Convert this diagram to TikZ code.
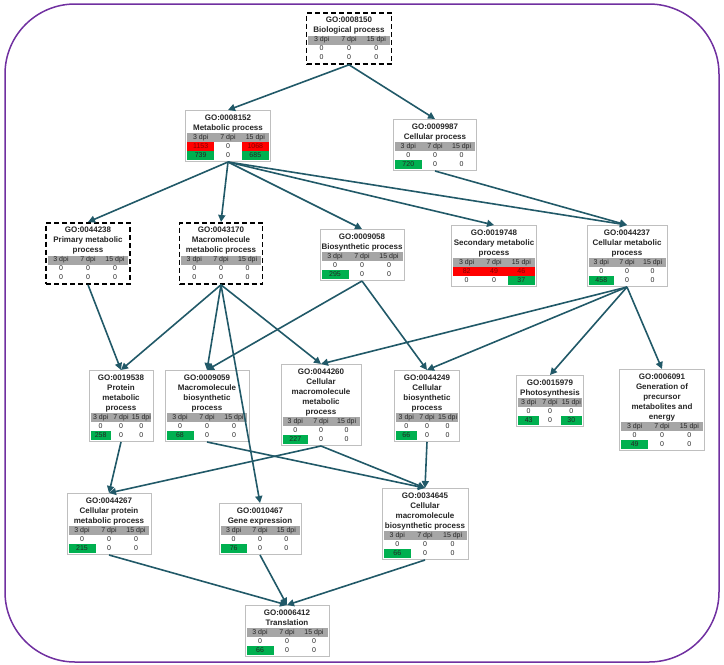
\documentclass[tikz,border=0pt]{standalone}
\usepackage{fontspec}
\setmainfont{Liberation Sans}
\usepackage{array,colortbl}
\definecolor{frameViolet}{HTML}{7030A0}
\definecolor{edgeTeal}{HTML}{215968}
\definecolor{boxGray}{HTML}{BFBFBF}
\definecolor{dpiGray}{HTML}{A6A6A6}
\definecolor{upRed}{HTML}{FF0000}
\definecolor{downGreen}{HTML}{00B050}
\usetikzlibrary{arrows.meta}

\newcolumntype{Y}[1]{>{\centering\arraybackslash}p{#1}}
\newcommand{\up}[1]{\cellcolor{upRed}\textcolor{upRed!50!black}{#1}}
\newcommand{\dn}[1]{\cellcolor{downGreen}#1}
% #1 inner width (pt), #2 GO id, #3 term name, #4 and #5 value rows
\newcommand{\goterm}[5]{%
  \fontsize{7}{9}\selectfont\setlength{\tabcolsep}{0pt}%
  \begin{tabular}{@{}Y{\dimexpr#1pt/3\relax}Y{\dimexpr#1pt/3\relax}Y{\dimexpr#1pt/3\relax}@{}}
  \multicolumn{3}{@{}c@{}}{\parbox[b]{#1pt}{\centering\fontsize{8}{10}\selectfont\bfseries\rule{0pt}{8.5pt}#2\\#3}}\\
  \rowcolor{dpiGray}3 dpi & 7 dpi & 15 dpi\\
  #4\\
  #5
  \end{tabular}}

\begin{document}
\begin{tikzpicture}[
    x=1pt, y=-1pt,
    term/.style={rectangle, draw=boxGray, line width=0.8pt, fill=white, inner sep=1.5pt, anchor=north, text=black!85},
    keyterm/.style={term, draw=black, line width=1.6pt, dash pattern=on 5pt off 3pt},
    edge/.style={-{Triangle[length=7pt,width=7pt]}, line width=1.6pt, edgeTeal},
    frame/.style={draw=frameViolet, line width=1.5pt, rounded corners=70pt}
]
\useasboundingbox (0,0) rectangle (724,665);
\draw[frame] (5,4) rectangle (719,662);

% Level 1 and 2
\node[keyterm] (bp) at (349,12) {\goterm{82}{GO:0008150}{Biological process}{0 & 0 & 0}{0 & 0 & 0}};
\node[term] (mp) at (228,110) {\goterm{82}{GO:0008152}{Metabolic process}{\up{1153} & 0 & \up{1068}}{\dn{739} & 0 & \dn{685}}};
\node[term] (cp) at (435,119) {\goterm{80}{GO:0009987}{Cellular process}{0 & 0 & 0}{\dn{720} & 0 & 0}};

% Level 3
\node[keyterm] (pmp) at (88,222) {\goterm{81}{GO:0044238}{Primary metabolic\\process}{0 & 0 & 0}{0 & 0 & 0}};
\node[keyterm] (mmp) at (221,222) {\goterm{80}{GO:0043170}{Macromolecule\\metabolic process}{0 & 0 & 0}{0 & 0 & 0}};
\node[term] (bsp) at (362,229) {\goterm{81}{GO:0009058}{Biosynthetic process}{0 & 0 & 0}{\dn{295} & 0 & 0}};
\node[term] (smp) at (494,225) {\goterm{82}{GO:0019748}{Secondary metabolic\\process}{\up{82} & \up{49} & \up{46}}{0 & 0 & \dn{37}}};
\node[term] (cmp) at (627,225) {\goterm{77}{GO:0044237}{Cellular metabolic\\process}{0 & 0 & 0}{\dn{458} & 0 & 0}};

% Level 4
\node[term] (prmp) at (121,370) {\goterm{61}{GO:0019538}{Protein\\metabolic\\process}{0 & 0 & 0}{\dn{258} & 0 & 0}};
\node[term] (mbp) at (207,370) {\goterm{81}{GO:0009059}{Macromolecule\\biosynthetic\\process}{0 & 0 & 0}{\dn{68} & 0 & 0}};
\node[term] (cmmp) at (321,364) {\goterm{77}{GO:0044260}{Cellular\\macromolecule\\metabolic\\process}{0 & 0 & 0}{\dn{227} & 0 & 0}};
\node[term] (cbp) at (427,370) {\goterm{62}{GO:0044249}{Cellular\\biosynthetic\\process}{0 & 0 & 0}{\dn{66} & 0 & 0}};
\node[term] (ps) at (550,375) {\goterm{64}{GO:0015979}{Photosynthesis}{0 & 0 & 0}{\dn{43} & 0 & \dn{30}}};
\node[term] (gpme) at (662,369) {\goterm{82}{GO:0006091}{Generation of\\precursor\\metabolites and\\energy}{0 & 0 & 0}{\dn{49} & 0 & 0}};

% Level 5 and 6
\node[term] (cpmp) at (109,493) {\goterm{81}{GO:0044267}{Cellular protein\\metabolic process}{0 & 0 & 0}{\dn{215} & 0 & 0}};
\node[term] (ge) at (260,503) {\goterm{79}{GO:0010467}{Gene expression}{0 & 0 & 0}{\dn{76} & 0 & 0}};
\node[term] (cmbp) at (425,488) {\goterm{83}{GO:0034645}{Cellular\\macromolecule\\biosynthetic process}{0 & 0 & 0}{\dn{66} & 0 & 0}};
\node[term] (tr) at (287,605) {\goterm{81}{GO:0006412}{Translation}{0 & 0 & 0}{\dn{66} & 0 & 0}};

% Edges
\draw[edge] (bp.south) -- (mp.north);
\draw[edge] (bp.south) -- (cp.north);
\draw[edge] (mp.south) -- (pmp.north);
\draw[edge] (mp.south) -- (mmp.north);
\draw[edge] (mp.south) -- (bsp.north);
\draw[edge] (mp.south) -- (smp.north);
\draw[edge] (mp.south) -- (cmp.north);
\draw[edge] (cp.south) -- (cmp.north);
\draw[edge] (pmp.south) -- (prmp.north);
\draw[edge] (mmp.south) -- (prmp.north);
\draw[edge] (mmp.south) -- (mbp.north);
\draw[edge] (mmp.south) -- (cmmp.north);
\draw[edge] (mmp.south) -- (ge.north);
\draw[edge] (bsp.south) -- (mbp.north);
\draw[edge] (bsp.south) -- (cbp.north);
\draw[edge] (cmp.south) -- (cmmp.north);
\draw[edge] (cmp.south) -- (cbp.north);
\draw[edge] (cmp.south) -- (ps.north);
\draw[edge] (cmp.south) -- (gpme.north);
\draw[edge] (prmp.south) -- (cpmp.north);
\draw[edge] (cmmp.south) -- (cpmp.north);
\draw[edge] (mbp.south) -- (cmbp.north);
\draw[edge] (cmmp.south) -- (cmbp.north);
\draw[edge] (cbp.south) -- (cmbp.north);
\draw[edge] (cpmp.south) -- (tr.north);
\draw[edge] (ge.south) -- (tr.north);
\draw[edge] (cmbp.south) -- (tr.north);
\end{tikzpicture}
\end{document}
